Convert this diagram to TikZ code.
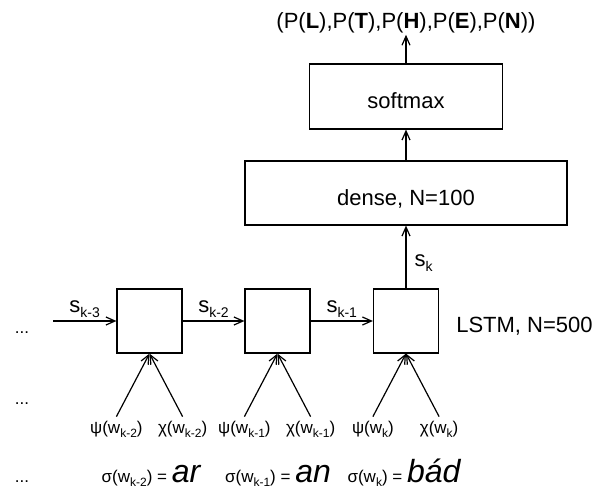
\documentclass[tikz,border=0pt]{standalone}
\usepackage{fontspec}
\setmainfont{Liberation Sans}
\usetikzlibrary{positioning,arrows.meta}

\newcommand{\lowbig}[1]{\raisebox{-5pt}{\fontsize{14}{14}\selectfont #1}}
\newcommand{\lowsmall}[1]{\raisebox{-4pt}{\fontsize{12}{12}\selectfont #1}}
\newcommand{\bigital}[1]{{\fontsize{32}{32}\selectfont\itshape #1}}

\tikzset{
  big/.style={font=\fontsize{22}{26}\selectfont, inner sep=2pt},
  small/.style={font=\fontsize{17}{20}\selectfont, inner sep=2pt},
  block/.style={draw, line width=1.2pt, big, text height=24pt, text depth=0pt},
  cell/.style={draw, line width=1.2pt, minimum width=65pt, minimum height=64pt},
  flow/.style={line width=1.2pt, -{Straight Barb[length=9pt,width=8pt]}},
}

\begin{document}
\begin{tikzpicture}[x=1pt,y=-1pt]
  \useasboundingbox (0,0) rectangle (606,488);
  % output side
  \node[big, anchor=base] (probs) at (406,28) {(P(\textbf{L}),P(\textbf{T}),P(\textbf{H}),P(\textbf{E}),P(\textbf{N}))};
  \node[block, minimum width=193pt, minimum height=65pt] (soft) at (406,96.5) {softmax};
  \node[block, minimum width=322pt, minimum height=64pt] (dense) at (406,193) {dense, N=100};
  % lstm cells
  \node[cell] (c1) at (149.5,321) {};
  \node[cell] (c2) at (277.5,321) {};
  \node[cell] (c3) at (406,321) {};
  \node[big, right=15pt of c3, yshift=-5pt] (lstm) {LSTM, N=500};
  \coordinate (s0) at (53,321);
  \draw[flow] (s0) -- (c1) node[midway, above, big, inner sep=3pt] {s\lowbig{k-3}};
  \draw[flow] (c1) -- (c2) node[midway, above, big, inner sep=3pt] {s\lowbig{k-2}};
  \draw[flow] (c2) -- (c3) node[midway, above, big, inner sep=3pt] {s\lowbig{k-1}};
  \draw[flow] (c3) -- (dense) node[midway, right=6pt, yshift=-6pt, big] {s\lowbig{k}};
  \draw[flow] (dense) -- (soft);
  \draw[flow] (soft) -- (probs);
  % inputs
  \foreach \i/\idx in {1/k-2, 2/k-1, 3/k} {
    \node[small, inner ysep=4.5pt, below=63pt of c\i.south west] (psi\i) {ψ(w\lowsmall{\idx})};
    \node[small, inner ysep=4.5pt, below=63pt of c\i.south east] (chi\i) {χ(w\lowsmall{\idx})};
    \draw[flow] (psi\i.north) -- (c\i.south);
    \draw[flow] (chi\i.north) -- (c\i.south);
  }
  \node[small, anchor=base] (dots1) at (22,333) {...};
  \node[small, anchor=base] (dots2) at (22,404) {...};
  \node[small, anchor=base] (dots3) at (22,482) {...};
  \node[small, anchor=base] (w1) at (151,482) {σ(w\lowsmall{k-2}) = \bigital{ar}};
  \node[small, anchor=base] (w2) at (278,482) {σ(w\lowsmall{k-1}) = \bigital{an}};
  \node[small, anchor=base] (w3) at (404,482) {σ(w\lowsmall{k}) = \bigital{bád}};
\end{tikzpicture}
\end{document}
